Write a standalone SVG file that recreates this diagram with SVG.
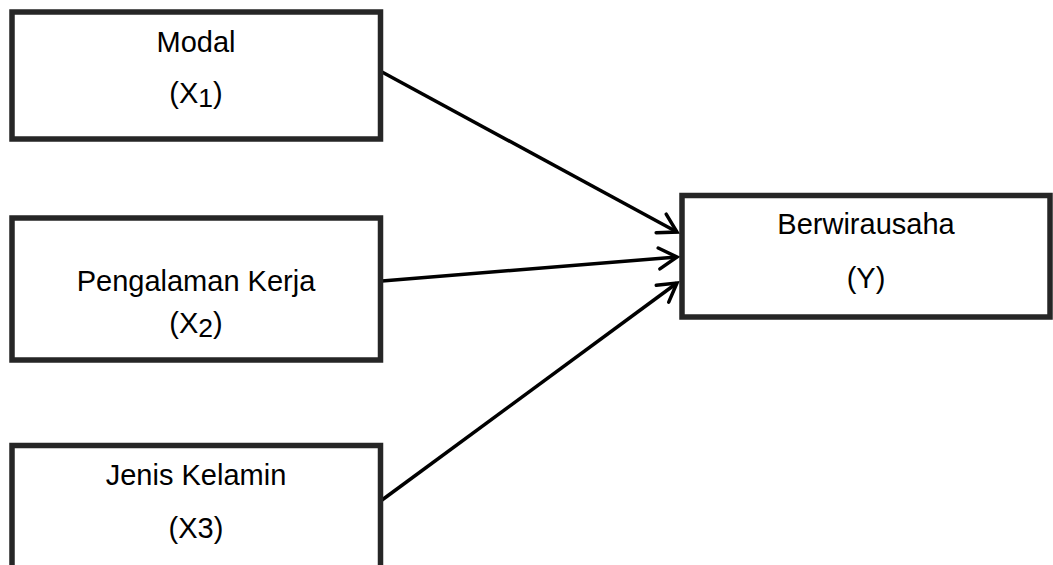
<svg xmlns="http://www.w3.org/2000/svg" width="1053" height="565" viewBox="0 0 1053 565">
  <style>
    .box { fill: #ffffff; stroke: #262626; stroke-width: 5.5; }
    .lbl { font-family: "Liberation Sans", Arial, sans-serif; font-size: 29px; fill: #000000; text-anchor: middle; }
    .sub { font-size: 26.5px; }
    .conn { fill: none; stroke: #000000; stroke-width: 3.5; marker-end: url(#arr); }
  </style>
  <defs>
    <marker id="arr" markerUnits="userSpaceOnUse" markerWidth="40" markerHeight="40" viewBox="-25 -20 40 40" refX="0" refY="0" orient="auto" overflow="visible">
      <path d="M-18,-10.5 L0,0 L-18,10.5" fill="none" stroke="#000000" stroke-width="3.5" stroke-linecap="round" stroke-linejoin="miter"/>
    </marker>
  </defs>
  <rect width="1053" height="565" fill="#ffffff"/>

  <g id="connectors">
    <line class="conn" x1="382" y1="72" x2="677" y2="232"/>
    <line class="conn" x1="382" y1="281" x2="677" y2="257"/>
    <line class="conn" x1="382" y1="500" x2="677" y2="283"/>
  </g>

  <g id="node-modal">
    <rect class="box" x="12" y="12" width="368.5" height="127"/>
    <text class="lbl" x="196" y="52">Modal</text>
    <text class="lbl" x="196" y="103">(X<tspan class="sub" dy="4">1</tspan><tspan dy="-4">)</tspan></text>
  </g>

  <g id="node-pengalaman">
    <rect class="box" x="12" y="218" width="368.5" height="142"/>
    <text class="lbl" x="196" y="291">Pengalaman Kerja</text>
    <text class="lbl" x="196" y="333">(X<tspan class="sub" dy="4">2</tspan><tspan dy="-4">)</tspan></text>
  </g>

  <g id="node-jenis">
    <rect class="box" x="12" y="445.5" width="368.5" height="130"/>
    <text class="lbl" x="196" y="485">Jenis Kelamin</text>
    <text class="lbl" x="196" y="538">(X3)</text>
  </g>

  <g id="node-berwirausaha">
    <rect class="box" x="682" y="195.5" width="368" height="121.5"/>
    <text class="lbl" x="866" y="234">Berwirausaha</text>
    <text class="lbl" x="866" y="288">(Y)</text>
  </g>
</svg>
